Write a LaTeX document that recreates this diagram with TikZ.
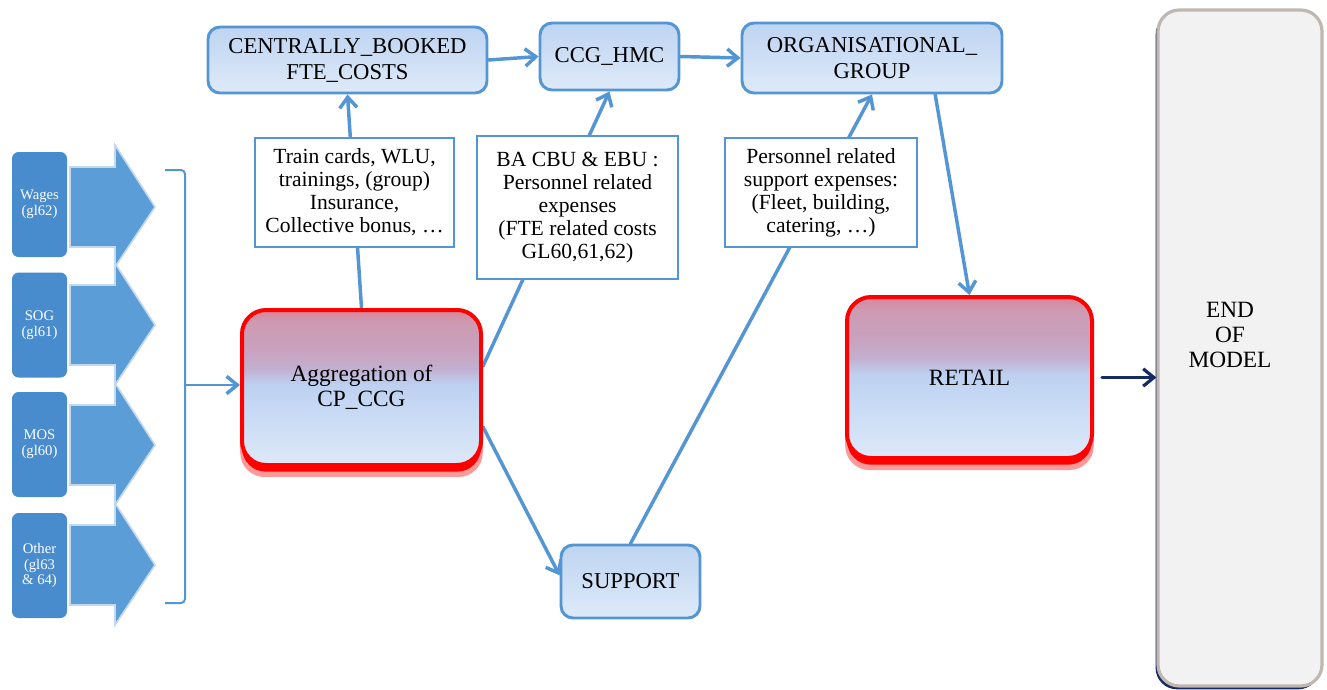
\documentclass[tikz,border=0pt]{standalone}
\usepackage{fontspec}
\setmainfont{LiberationSerif}[Extension=.ttf, UprightFont=*-Regular,
  BoldFont=*-Bold, ItalicFont=*-Italic, BoldItalicFont=*-BoldItalic]
\usetikzlibrary{arrows.meta,shadows}

\definecolor{lnblue}{RGB}{84,150,212}
\definecolor{boxtop}{RGB}{190,212,241}
\definecolor{boxbot}{RGB}{222,234,249}
\definecolor{sidebox}{RGB}{72,140,206}
\definecolor{sidearrow}{RGB}{91,157,214}
\definecolor{sideedge}{RGB}{196,216,238}
\definecolor{navyarr}{RGB}{22,42,100}
\definecolor{endfill}{RGB}{242,242,242}
\definecolor{endedge}{RGB}{192,184,176}
\definecolor{rbA}{RGB}{222,233,249}
\definecolor{rbB}{RGB}{196,215,243}
\definecolor{rbC}{RGB}{190,208,240}
\definecolor{rbD}{RGB}{194,176,208}
\definecolor{rbE}{RGB}{200,162,190}
\definecolor{rbF}{RGB}{206,154,178}
\definecolor{rbG}{RGB}{216,132,152}

% vertical shading of the two highlighted boxes (bottom to top)
\pgfdeclareverticalshading{redbox}{100bp}{color(0bp)=(rbA); color(25bp)=(rbA);
  color(45bp)=(rbB); color(51bp)=(rbC); color(56bp)=(rbD); color(62bp)=(rbE);
  color(71bp)=(rbF); color(75bp)=(rbG); color(100bp)=(rbG)}

\pgfdeclarelayer{back}
\pgfdeclarelayer{bg}
\pgfsetlayers{back,bg,main}

\tikzset{
  conn/.style={draw=lnblue, line width=2.6pt, line cap=round,
    -{Straight Barb[length=8pt,width=13pt,line width=2.6pt]}},
  flowbox/.style={draw=lnblue, line width=2.2pt, rounded corners=9pt,
    top color=boxtop, bottom color=boxbot, align=center, inner sep=0pt,
    font=\fontsize{17}{19.5}\selectfont},
  notebox/.style={draw=lnblue, line width=1.4pt, fill=white, align=center,
    inner sep=0pt, font=\fontsize{16.2}{17.25}\selectfont},
  keybox/.style={draw=red, line width=3pt, rounded corners=18pt,
    shading=redbox, align=center, inner sep=0pt,
    font=\fontsize{17.5}{19}\selectfont,
    general shadow={fill=red!80, opacity=0.5, shadow yshift=-8pt, shadow scale=1.015},
    general shadow={fill=red, shadow yshift=-5pt}},
  sidebox/.style={fill=sidebox, rounded corners=5pt, text=white, align=center,
    minimum width=41.25pt, minimum height=78.75pt, inner sep=0pt,
    font=\fontsize{11}{11.8}\selectfont},
  sidearrow/.style={fill=sidearrow, draw=sideedge, line width=1.2pt},
  bracket/.style={draw=lnblue, line width=1.5pt, rounded corners=3pt},
}

\begin{document}
\begin{tikzpicture}[x=0.75pt,y=-0.75pt]
\begin{pgfonlayer}{back}
  \fill[white] (0,0) rectangle (1327,689);
\end{pgfonlayer}
\useasboundingbox (0,0) rectangle (1327,689);

% input categories on the left
\foreach \c in {207,325,445,565}
  \filldraw[sidearrow] (70,\c-40) -- (115,\c-40) -- (115,\c-62) -- (155,\c)
     -- (115,\c+60) -- (115,\c+40) -- (70,\c+40) -- cycle;
\node[sidebox] (wages) at (39.5,204.5) {Wages\\(gl62)};
\node[sidebox] (sog)   at (39.5,325)   {SOG\\(gl61)};
\node[sidebox] (mos)   at (39.5,444.5) {MOS\\(gl60)};
\node[sidebox] (other) at (39.5,565.5) {Other\\(gl63\\\& 64)};

% bracket gathering the inputs
\draw[bracket] (165,170) -- (185,170) -- (185,603) -- (165,603);
\coordinate (brk) at (185,385);

% main flow boxes
\node[flowbox, minimum width=209.25pt, minimum height=49.5pt] (cb) at (347.5,60)
  {CENTRALLY\_BOOKED\\FTE\_COSTS};
\node[flowbox, minimum width=104.25pt, minimum height=50.25pt] (ccg) at (609.5,56.5)
  {CCG\_HMC};
\node[flowbox, minimum width=195pt, minimum height=52.5pt] (org) at (872,58)
  {ORGANISATIONAL\_\\GROUP};
\node[flowbox, minimum width=104.25pt, minimum height=54.75pt] (support) at (630.5,581.5)
  {SUPPORT};

\node[keybox, minimum width=179.25pt, minimum height=116.25pt] (agg) at (361.5,387.5)
  {Aggregation of\\CP\_CCG};
\node[keybox, minimum width=183.75pt, minimum height=120.75pt] (retail) at (969.5,377.5)
  {RETAIL};

\node[draw=endedge, line width=2.4pt, fill=endfill, rounded corners=16pt,
  minimum width=123pt, minimum height=507pt, inner sep=0pt,
  general shadow={fill=navyarr, shadow xshift=-1.8pt, shadow yshift=-2.5pt}]
  (endm) at (1240,348) {};
\node[align=center, font=\fontsize{17.5}{19}\selectfont] (endtxt) at (1230,335)
  {END\\OF\\MODEL};

% notes on the connectors
\node[notebox, minimum width=149.25pt, minimum height=81.75pt] (t1) at (354.5,192.5)
  {Train cards, WLU,\\trainings, (group)\\Insurance,\\Collective bonus, …};
\node[notebox, minimum width=150.75pt, minimum height=107.25pt] (t2) at (577.5,207.5)
  {BA CBU \& EBU :\\Personnel related\\expenses\\(FTE related costs\\GL60,61,62)};
\node[notebox, minimum width=144pt, minimum height=81.75pt] (t3) at (821,192.5)
  {Personnel related\\support expenses:\\(Fleet, building,\\catering, …)};

% connectors
\begin{pgfonlayer}{bg}
  \draw[conn] (agg.north) -- (cb.south);
  \draw[conn] (cb.east) -- (ccg.west);
  \draw[conn] (ccg.east) -- (org.west);
  \draw[conn] (agg.10) -- (ccg.south);
  \draw[conn] (agg.-18) -- (support.175);
  \draw[conn] (support.north) -- (org.south);
  \draw[conn] (org.-30) -- (retail.north);
  \draw[conn, line width=2pt] (brk) -- (brk -| agg.west);
  \draw[conn, draw=navyarr, line width=2.4pt, shorten <=6pt,
    -{Straight Barb[length=8pt,width=13pt,line width=2.4pt]}]
    (retail.east) -- (retail.east -| endm.west);
\end{pgfonlayer}
\end{tikzpicture}
\end{document}
